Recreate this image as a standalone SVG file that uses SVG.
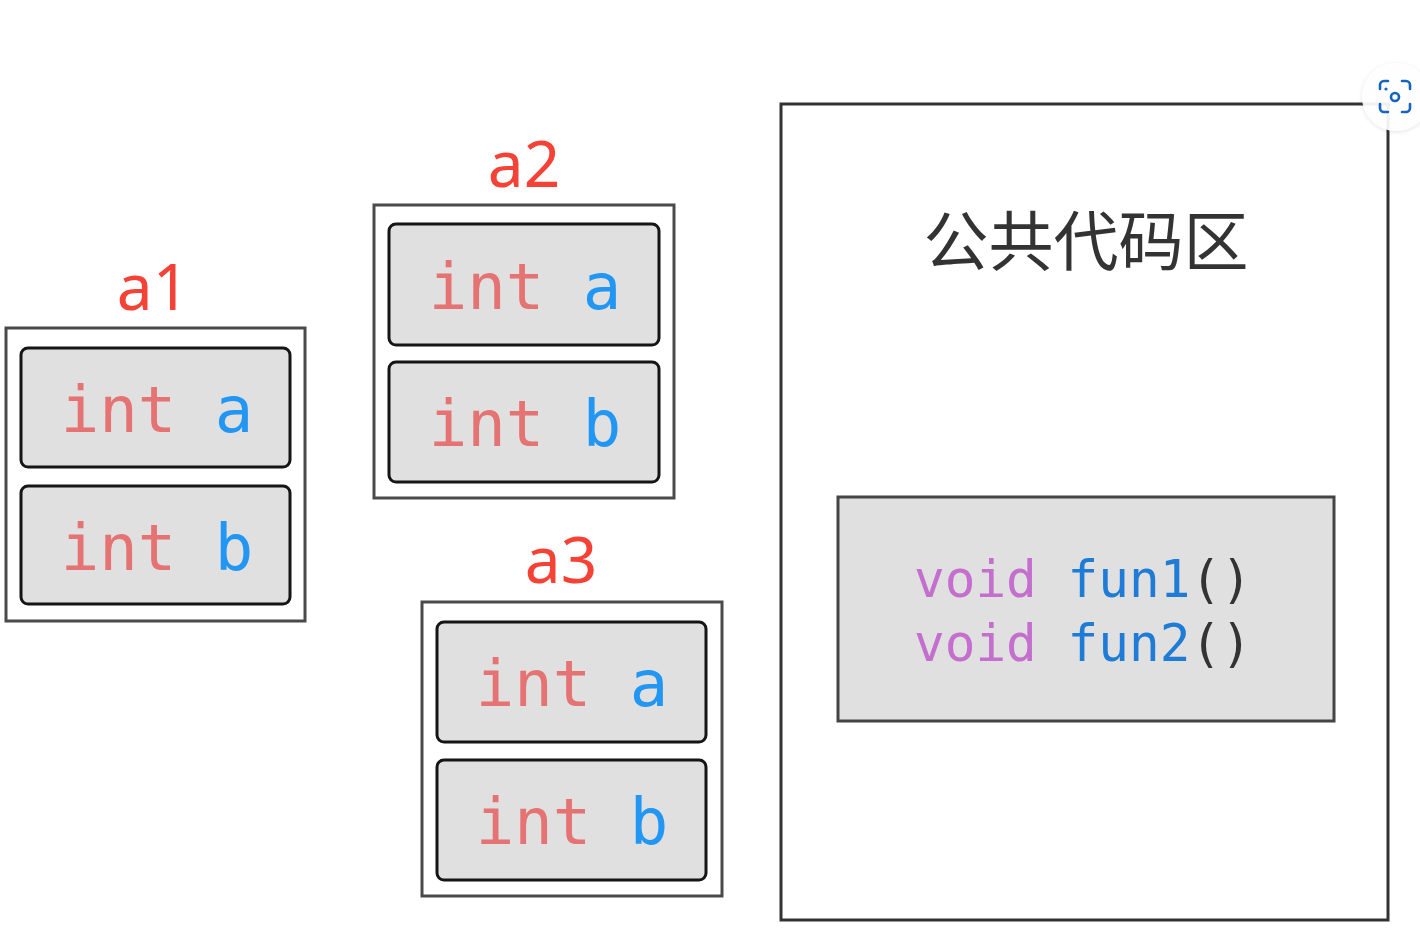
<svg xmlns="http://www.w3.org/2000/svg" width="1420" height="940" viewBox="0 0 1420 940">
<defs>
<style>
.outer{fill:#ffffff;stroke:#4a4a4a;stroke-width:3}
.cell{fill:#e0e0e0;stroke:#151515;stroke-width:3}
.lbl{font-family:"Noto Sans","Open Sans",sans-serif;font-size:64px;fill:#f44336;text-anchor:middle}
.code{font-family:"DejaVu Sans Mono","Liberation Mono",monospace;font-size:64px;text-anchor:middle}
.kw{fill:#e57373}
.id{fill:#2196f3}
.fn{font-family:"DejaVu Sans Mono","Liberation Mono",monospace;font-size:51px}
</style>
<filter id="sh" x="-30%" y="-30%" width="160%" height="160%"><feDropShadow dx="0" dy="1" stdDeviation="2" flood-color="#000" flood-opacity="0.12"/></filter>
</defs>
<rect width="1420" height="940" fill="#ffffff"/>

<g id="a1">
<text class="lbl" x="153" y="310">a1</text>
<rect class="outer" x="6" y="328" width="299" height="293"/>
<rect class="cell" x="21" y="348" width="269" height="119" rx="7"/>
<rect class="cell" x="21" y="486" width="269" height="118" rx="7"/>
<text class="code" x="157" y="432"><tspan class="kw">int</tspan> <tspan class="id">a</tspan></text>
<text class="code" x="157" y="570"><tspan class="kw">int</tspan> <tspan class="id">b</tspan></text>
</g>

<g id="a2">
<text class="lbl" x="524" y="187">a2</text>
<rect class="outer" x="374" y="205" width="300" height="293"/>
<rect class="cell" x="389" y="224" width="270" height="121" rx="7"/>
<rect class="cell" x="389" y="362" width="270" height="120" rx="7"/>
<text class="code" x="525" y="309"><tspan class="kw">int</tspan> <tspan class="id">a</tspan></text>
<text class="code" x="525" y="446"><tspan class="kw">int</tspan> <tspan class="id">b</tspan></text>
</g>

<g id="a3">
<text class="lbl" x="561" y="583">a3</text>
<rect class="outer" x="422" y="602" width="300" height="294"/>
<rect class="cell" x="437" y="622" width="269" height="120" rx="7"/>
<rect class="cell" x="437" y="760" width="269" height="120" rx="7"/>
<text class="code" x="572" y="706"><tspan class="kw">int</tspan> <tspan class="id">a</tspan></text>
<text class="code" x="572" y="844"><tspan class="kw">int</tspan> <tspan class="id">b</tspan></text>
</g>

<g id="public-code">
<rect x="781" y="104" width="607" height="816" fill="#ffffff" stroke="#333333" stroke-width="3"/>
<text x="1086" y="265" font-family="'Noto Sans CJK SC','Noto Sans',sans-serif" font-size="65" fill="#333333" text-anchor="middle">公共代码区</text>
<rect x="838" y="497" width="496" height="224" fill="#e0e0e0" stroke="#444444" stroke-width="3"/>
<text class="fn" x="914" y="597"><tspan fill="#c46fce">void</tspan> <tspan fill="#1e7bd6">fun1</tspan><tspan fill="#333333">()</tspan></text>
<text class="fn" x="914" y="661"><tspan fill="#c46fce">void</tspan> <tspan fill="#1e7bd6">fun2</tspan><tspan fill="#333333">()</tspan></text>
</g>

<g id="connectors"></g>

<g id="scan-icon">
<circle cx="1396" cy="97" r="34" fill="#ffffff" fill-opacity="0.92" filter="url(#sh)"/>
<g fill="none" stroke="#1565c0" stroke-width="2.6" stroke-linecap="round">
<path d="M1380 89 v-4 a4 4 0 0 1 4 -4 h4"/>
<path d="M1402 81 h4 a4 4 0 0 1 4 4 v4"/>
<path d="M1410 104 v4 a4 4 0 0 1 -4 4 h-4"/>
<path d="M1388 112 h-4 a4 4 0 0 1 -4 -4 v-4"/>
<circle cx="1395" cy="97" r="4"/>
</g>
<circle cx="1386" cy="89" r="1.6" fill="#1565c0"/>
</g>
</svg>
